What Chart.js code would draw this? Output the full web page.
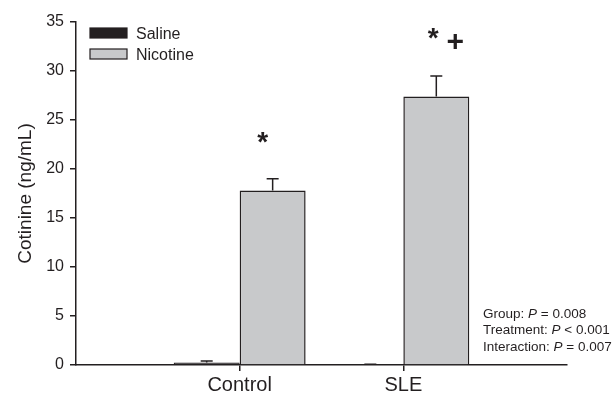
<!DOCTYPE html>
<html>
<head>
<meta charset="utf-8">
<script src="https://cdn.jsdelivr.net/npm/chart.js@4"></script>
<style>
  html, body { margin: 0; padding: 0; background: #fff; }
  #wrap { width: 613px; height: 402px; }
</style>
</head>
<body>
<div id="wrap"><canvas id="cotChart" width="613" height="402"></canvas></div>
<script>
// ── DATA ──────────────────────────────────────────────
const groups      = ["", "Control", "SLE", ""];
const saline      = [null, 0.25, 0.05, null];
const salineErr   = [null, 0.15, 0.02, null];
const nicotine    = [null, 17.8, 27.4, null];
const nicotineErr = [null, 1.2, 2.1, null];
const yTicks      = [0, 5, 10, 15, 20, 25, 30, 35];
const statLines   = [["Group: ", "P", " = 0.008"], ["Treatment: ", "P", " < 0.001"], ["Interaction: ", "P", " = 0.007"]];

const INK = "#231f20";
const FONT = "'Liberation Sans', Arial, sans-serif";

// ── ERROR BARS (upper only) ───────────────────────────
const errorBars = {
  id: "errorBars",
  afterDatasetsDraw(chart) {
    const ctx = chart.ctx, y = chart.scales.y;
    const errs = [salineErr, nicotineErr];
    ctx.save();
    ctx.strokeStyle = INK;
    ctx.lineWidth = 1.5;
    chart.data.datasets.forEach((ds, di) => {
      chart.getDatasetMeta(di).data.forEach((bar, i) => {
        if (ds.data[i] == null || errs[di][i] == null) return;
        const top = y.getPixelForValue(ds.data[i] + errs[di][i]);
        const base = y.getPixelForValue(ds.data[i]);
        ctx.beginPath();
        ctx.moveTo(bar.x, base);
        ctx.lineTo(bar.x, top);
        ctx.moveTo(bar.x - 6, top);
        ctx.lineTo(bar.x + 6, top);
        ctx.stroke();
      });
    });
    ctx.restore();
  },
};

// ── LEGEND, MARKS, STATS ──────────────────────────────
const extras = {
  id: "extras",
  afterDraw(chart) {
    const ctx = chart.ctx, y = chart.scales.y;
    ctx.save();
    // legend
    chart.data.datasets.forEach((ds, i) => {
      const ly = 28 + i * 21;
      ctx.fillStyle = ds.backgroundColor;
      ctx.fillRect(90, ly, 37, 10);
      ctx.strokeStyle = INK;
      ctx.lineWidth = 1.2;
      ctx.strokeRect(90, ly, 37, 10);
      ctx.fillStyle = INK;
      ctx.font = "16px " + FONT;
      ctx.textBaseline = "middle";
      ctx.fillText(ds.label, 136, ly + 7);
    });
    // significance marks
    const nic = chart.getDatasetMeta(1).data;
    ctx.fillStyle = INK;
    ctx.textAlign = "center";
    ctx.textBaseline = "middle";
    ctx.font = "bold 28px " + FONT;
    ctx.fillText("*", nic[1].x - 10, y.getPixelForValue(23.3) + 7);
    ctx.fillText("*", nic[2].x - 3, y.getPixelForValue(34.0) + 7);
    ctx.font = "bold 30px " + FONT;
    ctx.fillText("+", nic[2].x + 19, y.getPixelForValue(32.9));
    // stats text
    ctx.textAlign = "left";
    statLines.forEach((parts, i) => {
      let px = 483;
      const py = 314 + i * 16.5;
      parts.forEach((t, k) => {
        ctx.font = (k === 1 ? "italic " : "") + "13.5px " + FONT;
        ctx.fillText(t, px, py);
        px += ctx.measureText(t).width;
      });
    });
    ctx.restore();
  },
};

// ── CHART ─────────────────────────────────────────────
new Chart(document.getElementById("cotChart").getContext("2d"), {
  type: "bar",
  data: {
    labels: groups,
    datasets: [
      {
        label: "Saline",
        data: saline,
        backgroundColor: INK,
        borderColor: INK,
        borderWidth: 1.2,
        categoryPercentage: 0.806,
        barPercentage: 1,
      },
      {
        label: "Nicotine",
        data: nicotine,
        backgroundColor: "#c8c9cb",
        borderColor: INK,
        borderWidth: 1.5,
        categoryPercentage: 0.806,
        barPercentage: 1,
      },
    ],
  },
  options: {
    responsive: false,
    animation: false,
    layout: { padding: { top: 22, right: 46, left: 0, bottom: 0 } },
    plugins: { legend: { display: false }, tooltip: { enabled: false } },
    scales: {
      x: {
        offset: false,
        grid: {
          offset: false,
          drawOnChartArea: false,
          tickLength: 6,
          color: c => (c.index === 1 || c.index === 2) ? INK : "rgba(0,0,0,0)",
          lineWidth: 1.5,
        },
        border: { color: INK, width: 1.5 },
        ticks: { color: INK, font: { family: FONT, size: 20 }, padding: 2, autoSkip: false, maxRotation: 0 },
        afterFit: s => { s.height = 37; },
      },
      y: {
        min: 0,
        max: 35,
        afterBuildTicks: s => { s.ticks = yTicks.map(v => ({ value: v })); },
        grid: { drawOnChartArea: false, tickLength: 6, color: INK, lineWidth: 1.5 },
        border: { color: INK, width: 1.5 },
        ticks: { color: INK, font: { family: FONT, size: 16 }, padding: 6 },
        title: { display: true, text: "Cotinine (ng/mL)", color: INK, font: { family: FONT, size: 19 }, padding: { top: 14, bottom: 0 } },
        afterFit: s => { s.width = 76; },
      },
    },
  },
  plugins: [errorBars, extras],
});
</script>
</body>
</html>
